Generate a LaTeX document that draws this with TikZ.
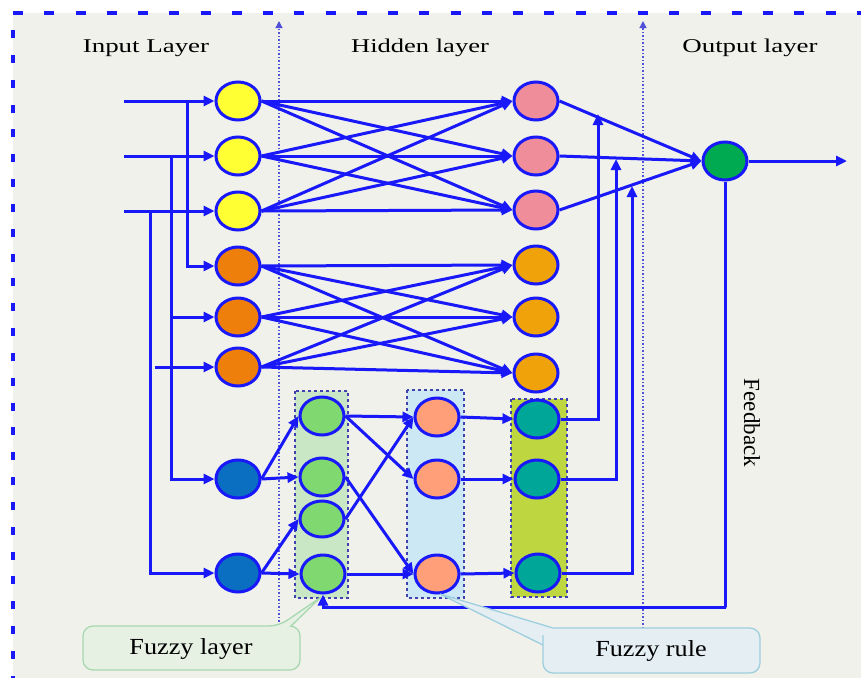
\documentclass[tikz,border=0pt]{standalone}
\usepackage{fontspec}
\usepackage{graphicx}
\setmainfont{Liberation Serif}
\usetikzlibrary{arrows.meta,shapes.geometric}
\definecolor{bg}{HTML}{EFF1EA}
\definecolor{ln}{HTML}{1818F8}
\definecolor{cyel}{HTML}{FFFF33}
\definecolor{cdor}{HTML}{EE7F0A}
\definecolor{cpink}{HTML}{EF8E9A}
\definecolor{clor}{HTML}{F0A20A}
\definecolor{cblue}{HTML}{0A6FC0}
\definecolor{cfz}{HTML}{80D870}
\definecolor{csal}{HTML}{FF9F7A}
\definecolor{cteal}{HTML}{00A698}
\definecolor{cout}{HTML}{00AA50}
\definecolor{boxg}{HTML}{C9E6C5}
\definecolor{boxb}{HTML}{CDE8F5}
\definecolor{boxy}{HTML}{BED63F}
\definecolor{boxedge}{HTML}{4040B0}
\definecolor{vdotc}{HTML}{5050D8}
\definecolor{calgf}{HTML}{E6F1E4}
\definecolor{calge}{HTML}{A8D8B0}
\definecolor{calbf}{HTML}{E4EEF3}
\definecolor{calbe}{HTML}{9ECFDE}
\begin{document}
\begin{tikzpicture}[x=1pt,y=-1pt,
  neuron/.style={ellipse,draw=ln,line width=3pt,minimum width=44pt,minimum height=38pt,inner sep=0pt},
  arr/.style={draw=ln,line width=3pt,-{Triangle[length=11pt,width=10pt]}},
  ln/.style={draw=ln,line width=3pt},
  grp/.style={draw=boxedge,line width=1.5pt,dash pattern=on 3pt off 3pt},
  vdot/.style={draw=vdotc,line width=1.3pt,dash pattern=on 1.5pt off 2pt,-{Triangle[length=7pt,width=7pt]}},
  hdr/.style={font=\fontsize{19.5}{22}\selectfont,inner sep=0pt},
  ctext/.style={font=\fontsize{23}{26}\selectfont,inner sep=0pt},
  callg/.style={draw=calge,fill=calgf,line width=1.3pt},
  callb/.style={draw=calbe,fill=calbf,line width=1.3pt}]
\useasboundingbox (0,0) rectangle (861,678);
\fill[white] (0,0) rectangle (861,678);
\fill[bg] (13,13) rectangle (861,678);
\draw[ln,line width=4pt,dash pattern=on 10pt off 21.25pt] (13,13) -- (861,13);
\draw[ln,line width=3.5pt,dash pattern=on 8pt off 16.84pt] (13,30) -- (13,678);

% group boxes
\filldraw[grp,fill=boxg] (295,391) rectangle (348,598);
\filldraw[grp,fill=boxb] (407,390) rectangle (464,598);
\filldraw[grp,fill=boxy] (511,399) rectangle (567,597);

% dotted separators
\draw[vdot] (279,625) -- (279,21);
\draw[vdot] (643,628) -- (643,21);

% nodes
\node[neuron,fill=cyel] (y1) at (238,101) {};
\node[neuron,fill=cyel] (y2) at (238,156) {};
\node[neuron,fill=cyel] (y3) at (238,211) {};
\node[neuron,fill=cdor] (o1) at (238,266) {};
\node[neuron,fill=cdor] (o2) at (238,317) {};
\node[neuron,fill=cdor] (o3) at (238,367) {};
\node[neuron,fill=cblue] (b1) at (238,479) {};
\node[neuron,fill=cblue] (b2) at (238,573) {};
\node[neuron,fill=cpink] (p1) at (536,101) {};
\node[neuron,fill=cpink] (p2) at (536,156) {};
\node[neuron,fill=cpink] (p3) at (536,210) {};
\node[neuron,fill=clor] (l1) at (536,265) {};
\node[neuron,fill=clor] (l2) at (536,317) {};
\node[neuron,fill=clor] (l3) at (536,373) {};
\node[neuron,fill=cfz] (f1) at (322,416) {};
\node[neuron,fill=cfz] (f2) at (322,477) {};
\node[neuron,fill=cfz,minimum height=36pt] (f3) at (322,519) {};
\node[neuron,fill=cfz] (f4) at (323,574) {};
\node[neuron,fill=csal] (s1) at (437,417) {};
\node[neuron,fill=csal] (s2) at (437,479) {};
\node[neuron,fill=csal] (s3) at (437,574) {};
\node[neuron,fill=cteal] (t1) at (537,419) {};
\node[neuron,fill=cteal] (t2) at (537,479) {};
\node[neuron,fill=cteal] (t3) at (538,573) {};
\node[neuron,fill=cout] (out) at (725,161) {};

% input lines
\coordinate (in1) at (124,101);
\coordinate (in2) at (124,156);
\coordinate (in3) at (124,211);
\coordinate (br1) at (187,101);
\coordinate (br2) at (171,156);
\coordinate (br2b) at (171,317);
\coordinate (br3) at (150,211);
\coordinate (in6) at (155,367);
\draw[arr] (in1) -- (y1.west);
\draw[arr] (in2) -- (y2.west);
\draw[arr] (in3) -- (y3.west);
\draw[arr] (br1) |- (o1.west);
\draw[arr] (br2b) -- (o2.west);
\draw[arr] (br2) |- (b1.west);
\draw[arr] (br3) |- (b2.west);
\draw[arr] (in6) -- (o3.west);

% full connections
\foreach \a in {y1,y2,y3}{\foreach \b in {p1,p2,p3}{\draw[arr] (\a.east) -- (\b.west);}}
\foreach \a in {o1,o2,o3}{\foreach \b in {l1,l2,l3}{\draw[arr] (\a.east) -- (\b.west);}}

% fuzzy part
\draw[arr] (b1.east) -- (f1.west);
\draw[arr] (b1.east) -- (f2.west);
\draw[arr] (b2.east) -- (f3.west);
\draw[arr] (b2.east) -- (f4.west);
\draw[arr] (f1.east) -- (s1.west);
\draw[arr] (f1.east) -- (s2.west);
\draw[arr] (f2.east) -- (s3.west);
\draw[arr] (f3.east) -- (s1.west);
\draw[arr] (f4.east) -- (s3.west);
\draw[arr] (s1.east) -- (t1.west);
\draw[arr] (s2.east) -- (t2.west);
\draw[arr] (s3.east) -- (t3.west);

% output
\draw[arr] (p1.east) -- (out.west);
\draw[arr] (p2.east) -- (out.west);
\draw[arr] (p3.east) -- (out.west);
\coordinate (o1up) at (598,114);
\coordinate (o2up) at (616,159);
\coordinate (o3up) at (632,186);
\draw[arr] (t1.east) -| (o1up);
\draw[arr] (t2.east) -| (o2up);
\draw[arr] (t3.east) -| (o3up);
\coordinate (outend) at (847,161);
\draw[arr] (out.east) -- (outend);
\coordinate (fbc) at (726,607);
\draw[arr] (out.south) |- (fbc) -| (f4.south);

% texts
\node[hdr] (tin) at (146,48) {\scalebox{1.38}[1]{Input Layer}};
\node[hdr] (thid) at (420,48) {\scalebox{1.36}[1]{Hidden layer}};
\node[hdr] (tout) at (750,48) {\scalebox{1.38}[1]{Output layer}};
\node[ctext,rotate=-90] (tfb) at (752,423) {Feedback};

% callouts
\draw[callg] (83,648) [rounded corners=10pt] |- (279,626) [sharp corners] -- (321,597) -- (291,626) [rounded corners=10pt] -| (300,670) -| (83,648) [sharp corners] -- cycle;
\node[ctext] (tfl) at (191,649) {\scalebox{1.14}[1]{Fuzzy layer}};
\draw[callb] (543,645) [sharp corners] -- (440,594) -- (553,628) [rounded corners=10pt] -| (760,673) -| (543,645) [sharp corners] -- cycle;
\node[ctext] (tfr) at (651,651) {\scalebox{1.14}[1]{Fuzzy rule}};
\end{tikzpicture}
\end{document}
